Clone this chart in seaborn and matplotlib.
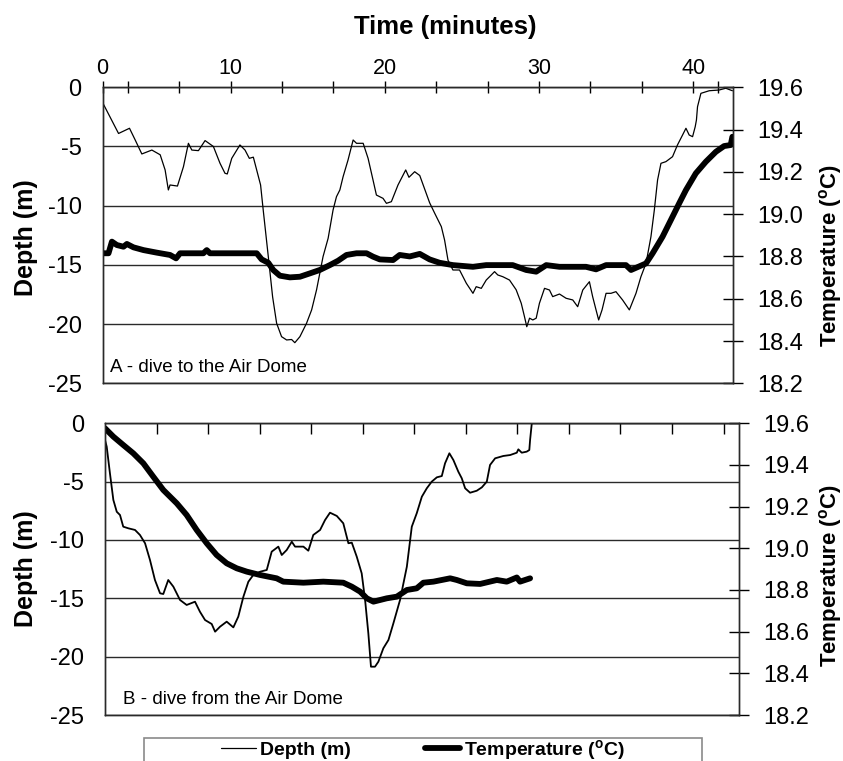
import numpy as np
import pandas as pd
import seaborn as sns
import matplotlib
matplotlib.use("Agg")
import matplotlib.pyplot as plt
from matplotlib.lines import Line2D
from matplotlib.patches import Rectangle

# ---------------- data ----------------
# Panel A - dive to the Air Dome
a_depth_t = [1.73, 2.74, 3.45, 3.82, 4.25, 4.90, 5.44, 5.76, 5.97, 6.08, 6.56, 6.95, 7.27, 7.49,
             7.92, 8.35, 8.89, 9.32, 9.64, 9.79, 10.08, 10.61, 10.94, 11.22, 11.48, 11.95, 12.12,
             12.45, 12.73, 12.99, 13.31, 13.64, 13.96, 14.17, 14.50, 14.93, 15.26, 15.58, 16.00,
             16.33, 16.65, 16.87, 17.09, 17.30, 17.62, 17.95, 18.17, 18.60, 18.92, 19.24, 19.46,
             19.89, 20.11, 20.43, 20.86, 21.36, 21.57, 21.94, 22.27, 22.91, 23.24, 23.67, 23.88,
             24.10, 24.42, 24.85, 25.29, 25.72, 25.93, 26.26, 26.58, 26.91, 27.12, 27.33, 27.66,
             28.09, 28.52, 28.85, 29.06, 29.21, 29.39, 29.60, 29.82, 30.03, 30.36, 30.68, 30.89,
             31.33, 31.76, 32.19, 32.51, 32.84, 33.27, 33.48, 33.70, 33.87, 34.09, 34.35, 34.67,
             34.99, 35.42, 35.86, 36.29, 36.61, 36.94, 37.26, 37.48, 37.69, 37.91, 38.23, 38.66,
             38.98, 39.31, 39.53, 39.74, 39.96, 40.13, 40.21, 40.28, 40.50, 41.04, 41.68, 42.11,
             42.54]
a_depth = [-1.35, -3.90, -3.46, -4.45, -5.63, -5.30, -5.70, -6.98, -8.67, -8.25, -8.34, -6.70,
           -4.73, -5.30, -5.35, -4.50, -5.00, -6.42, -7.26, -7.32, -6.00, -4.87, -5.30, -6.00,
           -5.90, -8.25, -10.36, -14.30, -17.70, -19.93, -21.06, -21.34, -21.30, -21.57, -21.06,
           -19.93, -18.80, -17.10, -14.30, -12.75, -10.36, -9.24, -8.67, -7.55, -6.14, -4.45,
           -4.73, -4.73, -6.00, -7.83, -9.10, -9.38, -9.80, -9.66, -8.25, -6.98, -7.60, -7.13,
           -7.45, -9.75, -10.64, -11.77, -12.90, -14.59, -15.43, -15.43, -16.55, -17.40, -16.84,
           -16.98, -16.28, -15.85, -15.57, -15.85, -16.00, -16.28, -17.10, -18.24, -19.37, -20.22,
           -19.50, -19.65, -19.50, -18.24, -16.98, -17.12, -17.68, -17.46, -17.82, -17.96, -18.53,
           -17.12, -16.42, -17.68, -18.80, -19.65, -18.80, -17.40, -17.40, -17.26, -17.96, -18.80,
           -17.40, -16.00, -14.87, -12.62, -10.36, -7.83, -6.42, -6.28, -5.86, -4.87, -4.03,
           -3.46, -4.03, -4.17, -3.33, -2.76, -1.64, -0.51, -0.29, -0.23, -0.08, -0.29]

a_temp_t = [1.73, 2.09, 2.31, 2.63, 3.06, 3.28, 3.71, 4.36, 5.22, 6.08, 6.47, 6.73, 8.24, 8.46,
            8.67, 11.70, 12.02, 12.45, 12.77, 13.20, 13.85, 14.50, 15.15, 15.79, 16.44, 16.98,
            17.52, 18.17, 18.82, 19.24, 19.68, 20.54, 20.97, 21.62, 22.27, 22.91, 23.56, 24.42,
            25.72, 26.58, 28.30, 29.17, 29.82, 30.47, 31.33, 33.05, 33.70, 34.35, 35.64, 35.97,
            36.94, 37.37, 38.01, 38.66, 39.09, 39.53, 40.17, 40.82, 41.47, 42.00, 42.43, 42.54]
a_temp = [18.815, 18.815, 18.870, 18.854, 18.846, 18.859, 18.843, 18.830, 18.818, 18.807,
          18.791, 18.815, 18.815, 18.830, 18.815, 18.815, 18.786, 18.770, 18.736, 18.709,
          18.701, 18.704, 18.720, 18.736, 18.759, 18.780, 18.807, 18.815, 18.815, 18.799,
          18.786, 18.783, 18.807, 18.800, 18.812, 18.786, 18.770, 18.759, 18.751, 18.759,
          18.759, 18.736, 18.728, 18.759, 18.751, 18.751, 18.739, 18.759, 18.759, 18.736,
          18.767, 18.815, 18.893, 18.988, 19.051, 19.114, 19.193, 19.248, 19.295, 19.322,
          19.327, 19.366]

# Panel B - dive from the Air Dome
b_depth_t = [0.00, 0.11, 0.32, 0.54, 0.76, 0.97, 1.18, 1.51, 1.94, 2.26, 2.59, 2.91, 3.23, 3.56,
             3.77, 4.09, 4.42, 4.85, 5.28, 5.82, 6.14, 6.47, 6.90, 7.12, 7.44, 7.87, 8.30, 8.62,
             8.95, 9.27, 9.59, 10.03, 10.46, 10.78, 11.21, 11.43, 11.75, 12.08, 12.29, 12.83,
             13.15, 13.47, 13.91, 14.23, 14.55, 14.99, 15.41, 15.74, 15.96, 16.28, 16.60, 16.82,
             17.03, 17.20, 17.46, 17.68, 18.00, 18.33, 18.65, 19.08, 19.52, 19.84, 20.16, 20.49,
             20.81, 21.13, 21.46, 21.78, 21.99, 22.27, 22.53, 22.85, 23.07, 23.29, 23.61, 24.04,
             24.37, 24.69, 24.90, 25.23, 25.76, 26.20, 26.63, 26.73, 26.95, 27.27, 27.44, 27.49,
             27.60, 41.00]
b_depth = [-1.43, -2.00, -4.29, -6.57, -7.58, -7.86, -8.86, -9.00, -9.14, -9.57, -10.28, -11.72,
           -13.43, -14.57, -14.63, -13.43, -14.00, -15.14, -15.57, -15.29, -16.15, -16.86, -17.20,
           -17.86, -17.43, -17.00, -17.49, -16.57, -14.86, -13.58, -13.00, -12.72, -12.57, -11.00,
           -10.57, -11.29, -10.86, -10.15, -10.57, -10.57, -10.92, -9.57, -9.14, -8.29, -7.66,
           -7.94, -8.57, -10.28, -10.23, -11.43, -12.86, -15.14, -18.00, -20.86, -20.86, -20.43,
           -19.28, -18.57, -17.14, -15.14, -12.29, -8.86, -7.71, -6.29, -5.57, -5.00, -4.63,
           -4.52, -3.43, -2.57, -3.15, -4.15, -4.71, -5.57, -5.95, -5.78, -5.49, -5.00, -3.57,
           -3.00, -2.80, -2.72, -2.52, -2.23, -2.52, -2.43, -2.29, -1.43, 0.00, 0.00]

b_temp_t = [0.00, 0.54, 1.18, 1.83, 2.48, 3.12, 3.77, 4.64, 5.28, 5.93, 6.58, 7.22, 7.87, 8.52,
            9.17, 10.03, 11.10, 11.53, 12.83, 14.12, 15.41, 15.96, 16.50, 16.93, 17.36, 17.79,
            18.22, 18.87, 19.52, 20.16, 20.59, 21.24, 22.32, 22.75, 23.40, 24.26, 25.34, 25.98,
            26.63, 26.84, 27.49]
b_temp = [19.576, 19.536, 19.496, 19.456, 19.408, 19.344, 19.280, 19.216, 19.160, 19.088,
          19.024, 18.968, 18.928, 18.904, 18.888, 18.872, 18.856, 18.840, 18.835, 18.840,
          18.835, 18.816, 18.792, 18.760, 18.744, 18.752, 18.760, 18.768, 18.800, 18.808,
          18.835, 18.840, 18.856, 18.848, 18.832, 18.829, 18.848, 18.840, 18.860, 18.840,
          18.856]

depth_ticks = [0, -5, -10, -15, -20, -25]
temp_ticks = [18.2, 18.4, 18.6, 18.8, 19.0, 19.2, 19.4, 19.6]
a_label_pos = [1.7, 10, 20, 30, 40]
a_labels = ["0", "10", "20", "30", "40"]
a_minor = [10 / 3, 20 / 3, 40 / 3, 50 / 3, 70 / 3, 80 / 3, 100 / 3, 110 / 3, 41.6]
b_ticks = [k * 10 / 3 for k in range(1, 13)]

# ---------------- style ----------------
sns.set_theme(style="white")
plt.rcParams["font.family"] = ["Liberation Sans", "DejaVu Sans"]
plt.rcParams["axes.unicode_minus"] = False
plt.rcParams["mathtext.fontset"] = "custom"
plt.rcParams["mathtext.rm"] = "Liberation Sans"
plt.rcParams["mathtext.bf"] = "Liberation Sans:bold"
plt.rcParams["mathtext.it"] = "Liberation Sans:italic"
plt.rcParams["text.color"] = "black"
plt.rcParams["axes.labelcolor"] = "black"
plt.rcParams["xtick.color"] = "black"
plt.rcParams["ytick.color"] = "black"

W, H = 843, 761
fig = plt.figure(figsize=(W / 100, H / 100), dpi=100)
fig.patch.set_facecolor("white")


def fx(px):
    return px / W


def fy(py):
    return 1 - py / H


spine_col = "#2a2a2a"
grid_col = "#2a2a2a"


def setup_panel(ax, axt, label):
    ax.set_ylim(-25, 0)
    ax.set_yticks(depth_ticks)
    ax.set_yticklabels([str(v) for v in depth_ticks])
    ax.yaxis.grid(True, color=grid_col, linewidth=1.0)
    ax.xaxis.grid(False)
    ax.set_axisbelow(True)
    ax.tick_params(axis="y", which="both", left=True, length=0, pad=15, labelsize=17,
                   colors="black")
    axt.set_ylim(18.2, 19.6)
    axt.set_yticks(temp_ticks)
    axt.set_yticklabels([f"{v:.1f}" for v in temp_ticks])
    axt.tick_params(axis="y", which="both", right=True, direction="inout", length=15,
                    width=1.0, pad=10, labelsize=17, colors="black")
    axt.grid(False)
    for a in (ax, axt):
        for s in a.spines.values():
            s.set_visible(True)
            s.set_color(spine_col)
            s.set_linewidth(1.0)
    ax.set_xlabel("")
    ax.set_ylabel("")
    axt.set_ylabel("")
    ax.text(0.012 if label.startswith("A") else 0.029, 0.025, label,
            transform=ax.transAxes, fontsize=13.5, ha="left", va="bottom", color="black")


# ---------------- Panel A ----------------
axA = fig.add_axes([fx(102.5), fy(383.3), fx(733.3 - 102.5), (383.3 - 87.3) / H])
axAt = axA.twinx()
sns.lineplot(x=a_depth_t, y=a_depth, ax=axA, color="black", linewidth=0.9,
             estimator=None, sort=False)
sns.lineplot(x=a_temp_t, y=a_temp, ax=axAt, color="black", linewidth=4.2,
             estimator=None, sort=False)
setup_panel(axA, axAt, "A - dive to the Air Dome")
axA.set_xlim(1.7, 42.6)
axA.xaxis.tick_top()
axA.set_xticks(a_label_pos)
axA.set_xticklabels(a_labels)
axA.set_xticks(a_minor, minor=True)
axA.tick_params(axis="x", which="both", top=True, bottom=False, labeltop=True,
                labelbottom=False, direction="inout", length=8, width=1.0, pad=2,
                labelsize=15.5, colors="black")

# ---------------- Panel B ----------------
axB = fig.add_axes([fx(105), fy(715), fx(739 - 105), (715 - 423.3) / H])
axBt = axB.twinx()
sns.lineplot(x=b_depth_t, y=b_depth, ax=axB, color="black", linewidth=1.3,
             estimator=None, sort=False)
sns.lineplot(x=b_temp_t, y=b_temp, ax=axBt, color="black", linewidth=4.2,
             estimator=None, sort=False)
setup_panel(axB, axBt, "B - dive from the Air Dome")
axB.set_xlim(0, 41.0)
axB.xaxis.tick_top()
axB.set_xticks(b_ticks)
axB.set_xticklabels([])
axB.tick_params(axis="x", which="both", top=True, bottom=False, labeltop=False,
                labelbottom=False, direction="in", length=8, width=1.0)

# ---------------- labels ----------------
fig.text(fx(445), fy(27), "Time (minutes)", fontsize=18.5, fontweight="bold",
         ha="center", va="center", color="black")
for yc in (237.5, 569):
    fig.text(fx(25.5), fy(yc), "Depth (m)", fontsize=18, fontweight="bold",
             rotation=90, ha="center", va="center", color="black")
for yc in (255, 575):
    fig.text(fx(830), fy(yc), r"Temperature ($\mathbf{^{o}}$C)", fontsize=16,
             fontweight="bold", rotation=90, ha="center", va="center", color="black")

# ---------------- legend ----------------
fig.patches.append(Rectangle((fx(144), -0.05), fx(702 - 144), fy(738) + 0.05,
                             transform=fig.transFigure, facecolor="none",
                             edgecolor="#8a8a8a", linewidth=1.2))
handles = [Line2D([], [], color="black", linewidth=0.9),
           Line2D([], [], color="black", linewidth=4.2)]
fig.legend(handles, ["Depth (m)", r"Temperature ($\mathbf{^{o}}$C)"], loc="center",
           bbox_to_anchor=(fx(423), fy(750)), ncol=2, frameon=False,
           prop={"size": 14, "weight": "bold"}, handlelength=1.8, handletextpad=0.2,
           columnspacing=3.8, borderpad=0, labelcolor="black")

fig.savefig("out.png", dpi=100, facecolor="white")
